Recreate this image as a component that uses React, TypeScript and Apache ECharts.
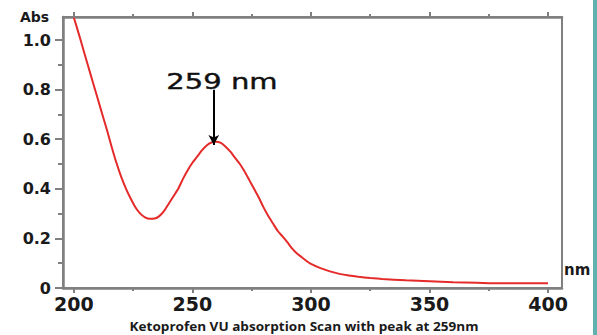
import React, { useEffect, useRef } from "react";
import * as echarts from "echarts";

// Absorbance scan (wavelength nm, absorbance)
const wavelengths = [
  200, 202, 204, 206, 208, 210, 212, 214, 216, 218, 220, 222, 224, 226, 228, 230,
  232, 234, 236, 238, 240, 242, 244, 246, 248, 250, 252, 254, 256, 258, 260, 262,
  264, 266, 268, 270, 272, 274, 276, 278, 280, 282, 284, 286, 288, 290, 292, 294,
  296, 298, 300, 304, 308, 312, 316, 320, 325, 330, 340, 350, 360, 370, 380, 390, 400,
];
const absorbance = [
  1.09, 1.027, 0.961, 0.895, 0.83, 0.765, 0.7, 0.635, 0.567, 0.503, 0.447, 0.4, 0.36, 0.325, 0.3, 0.285,
  0.279, 0.28, 0.29, 0.31, 0.34, 0.37, 0.4, 0.44, 0.475, 0.505, 0.53, 0.555, 0.575, 0.587, 0.59, 0.585,
  0.57, 0.55, 0.525, 0.5, 0.47, 0.435, 0.4, 0.365, 0.325, 0.29, 0.26, 0.23, 0.208, 0.185, 0.16, 0.14,
  0.125, 0.11, 0.097, 0.08, 0.067, 0.057, 0.05, 0.045, 0.04, 0.036, 0.031, 0.027, 0.023, 0.021, 0.019, 0.019, 0.019,
];

const xMajorTicks = [200, 250, 300, 350, 400];
const xMinorTicks = [225, 275, 325, 375];
const yMajorTicks = [0, 0.2, 0.4, 0.6, 0.8, 1.0];
const yMinorTicks = [0.1, 0.3, 0.5, 0.7, 0.9];

const peakNm = 259;
const arrowFrom = 0.8;
const arrowTo = 0.577;
const peakLabel = "259 nm";
const yTitle = "Abs";
const xTitle = "nm";
const caption = "Ketoprofen VU absorption Scan with peak at 259nm";

const AXIS = "#808080";
const TEXT = "#1a1a1a";

export default function App() {
  const ref = useRef<HTMLDivElement>(null);

  useEffect(() => {
    if (!ref.current) return;
    const chart = echarts.init(ref.current, undefined, { renderer: "svg" });
    const xBase = {
      type: "value" as const,
      min: 195.4,
      max: 405.9,
      splitLine: { show: false },
    };
    const yBase = {
      type: "value" as const,
      min: 0,
      max: 1.093,
      splitLine: { show: false },
    };
    const tickStyle = { color: AXIS, width: 2 };
    chart.setOption({
      animation: false,
      backgroundColor: "#ffffff",
      grid: {
        left: 63,
        top: 17,
        right: 35,
        bottom: 47,
        show: true,
        borderColor: AXIS,
        borderWidth: 2,
        backgroundColor: "transparent",
      },
      xAxis: [
        {
          ...xBase,
          position: "bottom",
          axisLine: { show: true, lineStyle: { color: AXIS, width: 2.5 } },
          axisTick: { show: true, customValues: xMajorTicks, length: 5, lineStyle: tickStyle },
          axisLabel: {
            customValues: xMajorTicks,
            fontFamily: "DejaVu Sans",
            fontWeight: "bold",
            fontSize: 19,
            color: TEXT,
            margin: 6,
          },
        },
        {
          ...xBase,
          position: "bottom",
          axisLine: { show: false },
          axisTick: { show: true, customValues: xMinorTicks, length: 3, lineStyle: tickStyle },
          axisLabel: { show: false },
        },
        {
          ...xBase,
          position: "top",
          axisLine: { show: true, lineStyle: { color: AXIS, width: 2.5 } },
          axisTick: { show: true, customValues: xMajorTicks, length: 5, lineStyle: tickStyle },
          axisLabel: { show: false },
        },
        {
          ...xBase,
          position: "top",
          axisLine: { show: false },
          axisTick: { show: true, customValues: xMinorTicks, length: 3, lineStyle: tickStyle },
          axisLabel: { show: false },
        },
      ],
      yAxis: [
        {
          ...yBase,
          position: "left",
          axisLine: { show: true, lineStyle: { color: AXIS, width: 2.5 } },
          axisTick: { show: true, customValues: yMajorTicks, length: 8, lineStyle: tickStyle },
          axisLabel: {
            customValues: yMajorTicks,
            fontFamily: "DejaVu Sans",
            fontWeight: "bold",
            fontSize: 16,
            color: TEXT,
            margin: 12,
            formatter: (v: number) => (v === 0 ? "0" : v.toFixed(1)),
          },
        },
        {
          ...yBase,
          position: "left",
          axisLine: { show: false },
          axisTick: { show: true, customValues: yMinorTicks, length: 5, lineStyle: tickStyle },
          axisLabel: { show: false },
        },
      ],
      series: [
        {
          type: "line",
          data: wavelengths.map((w, i) => [w, absorbance[i]]),
          showSymbol: false,
          smooth: 0.2,
          clip: true,
          lineStyle: { color: "#e52a2a", width: 2 },
          markLine: {
            silent: true,
            symbol: ["none", "arrow"],
            symbolSize: [8, 10],
            lineStyle: { color: "#000", width: 2, type: "solid" },
            label: { show: false },
            data: [[{ coord: [peakNm, arrowFrom] }, { coord: [peakNm, arrowTo] }]],
          },
        },
      ],
      graphic: [
        {
          type: "text",
          left: 20,
          top: 10,
          style: { text: yTitle, fontFamily: "DejaVu Sans", fontWeight: "bold", fontSize: 14, fill: TEXT },
        },
        {
          type: "text",
          left: 564,
          top: 262,
          style: { text: xTitle, fontFamily: "DejaVu Sans", fontWeight: "bold", fontSize: 15, fill: TEXT },
        },
        {
          type: "text",
          x: 222,
          y: 81,
          scaleX: 1.32,
          style: {
            text: peakLabel,
            fontFamily: "DejaVu Sans",
            fontSize: 22,
            fill: "#111",
            stroke: "#111",
            lineWidth: 0.4,
            align: "center",
            verticalAlign: "middle",
          },
        },
        {
          type: "text",
          x: 304,
          y: 326,
          scaleX: 1.13,
          style: {
            text: caption,
            fontFamily: "Open Sans",
            fontWeight: "bold",
            fontSize: 12,
            fill: TEXT,
            align: "center",
            verticalAlign: "middle",
          },
        },
        {
          type: "rect",
          shape: { x: 593, y: 0, width: 4, height: 335 },
          style: { fill: "#5fb2ae" },
        },
      ],
    });
    return () => chart.dispose();
  }, []);

  return (
    <div
      ref={ref}
      style={{ position: "fixed", left: 0, top: 0, width: 597, height: 335, background: "#fff" }}
    />
  );
}
